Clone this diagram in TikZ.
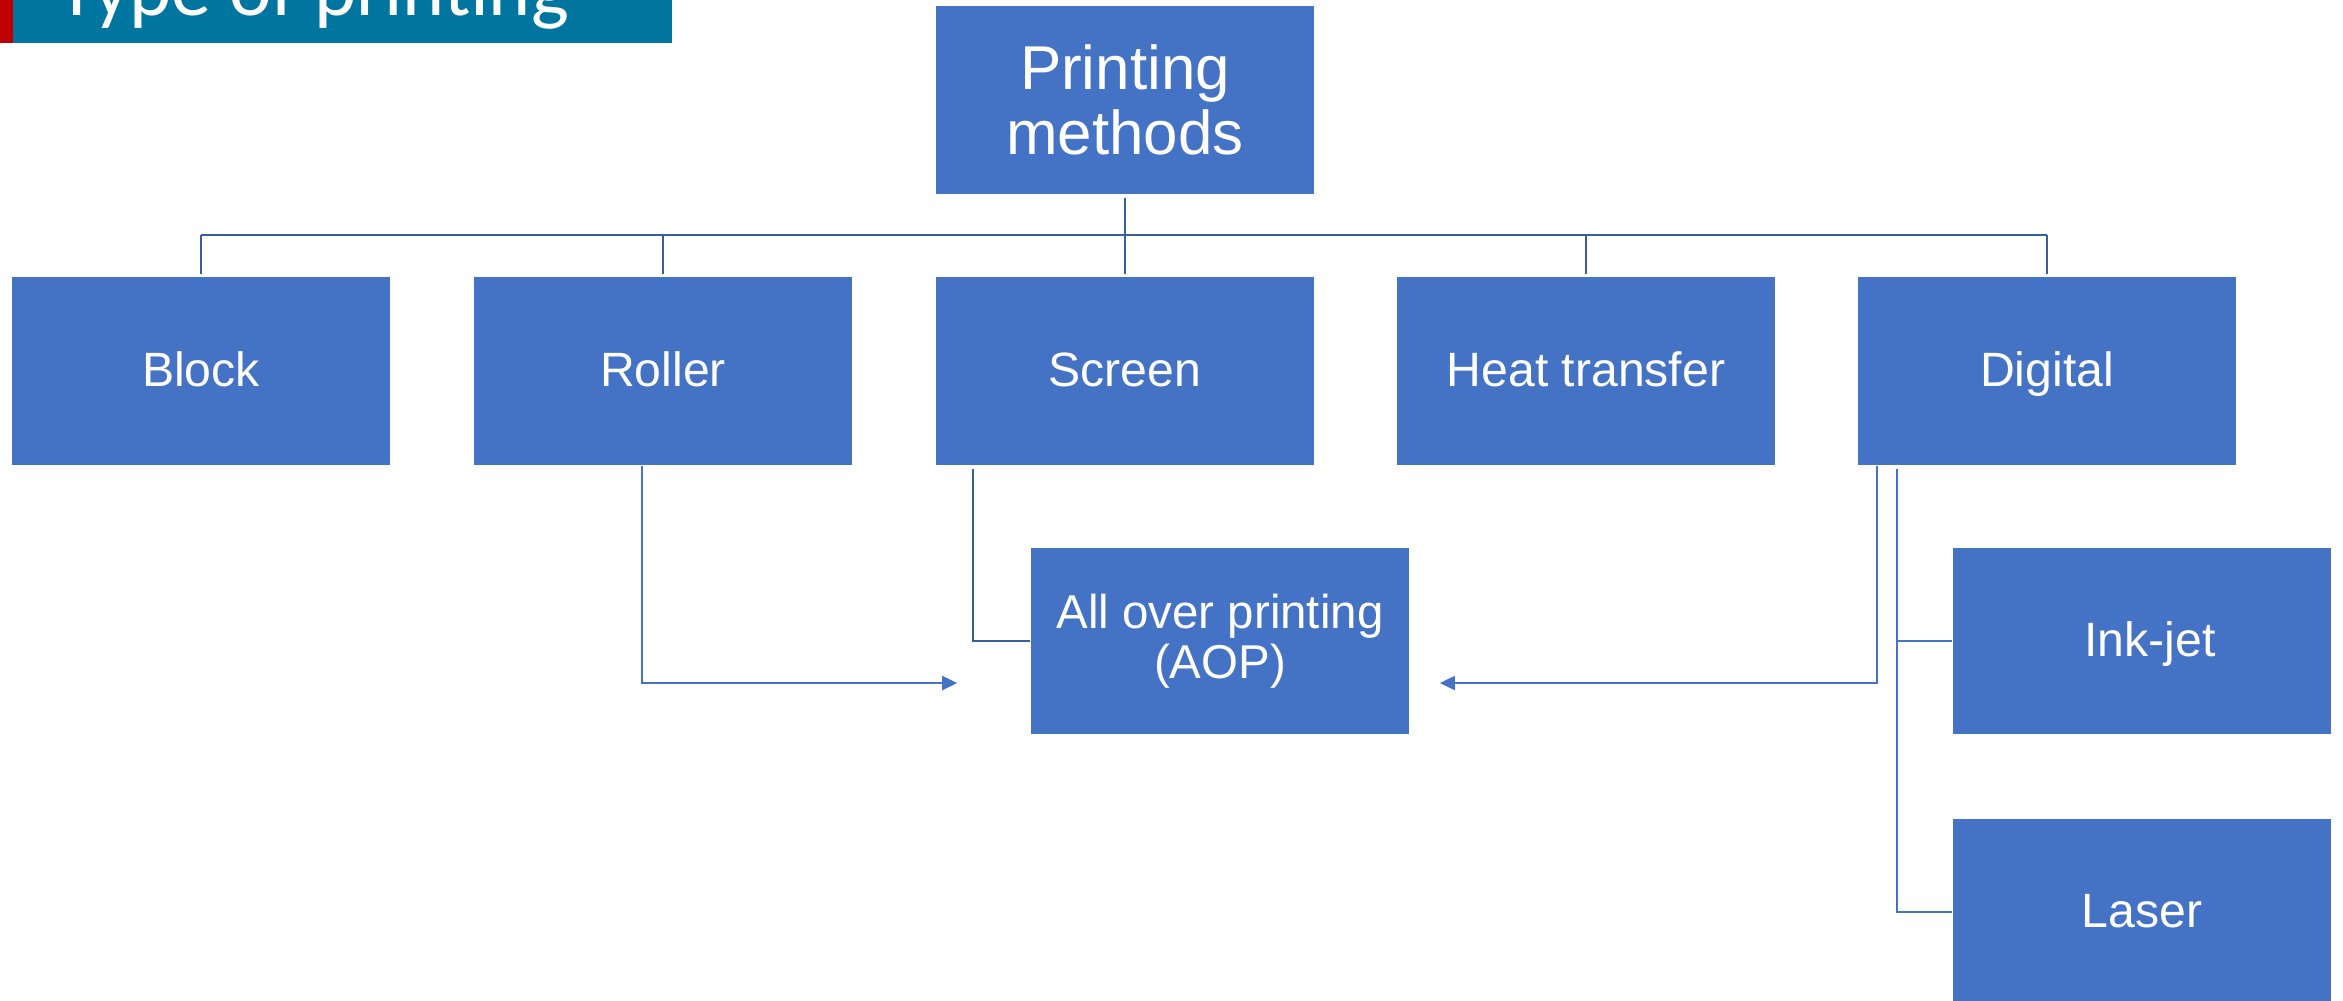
\documentclass[tikz,border=0pt]{standalone}
\usepackage{fontspec}
\setmainfont{Liberation Sans}
\newfontfamily\titlefont{Carlito}
\usetikzlibrary{arrows.meta}
\definecolor{boxblue}{HTML}{4472C4}
\definecolor{busblue}{HTML}{3A5CA0}
\definecolor{titleteal}{HTML}{0075A0}
\definecolor{titlered}{HTML}{C00000}
\tikzset{
  box/.style={fill=boxblue, draw=none, text=white, minimum width=3.78cm, minimum height=1.88cm, inner sep=0pt, align=center, font=\fontsize{13.7}{16}\selectfont},
  onebox/.style={box, text height=9.8pt, text depth=0.9pt},
  bigbox/.style={box, font=\fontsize{17.6}{18.5}\selectfont},
  aopbox/.style={box, minimum height=1.86cm, font=\fontsize{13.5}{14.2}\selectfont},
  busline/.style={draw=busblue, line width=0.8pt},
  darkline/.style={draw=busblue, line width=0.6pt},
  liteline/.style={draw=boxblue, line width=0.6pt},
  tip/.style={-{Triangle[length=0.15cm,width=0.14cm]}}
}
\begin{document}
\begin{tikzpicture}[x=0.01cm, y=-0.01cm]
\useasboundingbox (0,0) rectangle (2343,1000);
% title bar
\fill[titlered] (0,0) rectangle (13,43);
\fill[titleteal] (13,0) rectangle (672,43);
\node[anchor=base west, inner sep=0pt, text=white, font=\titlefont\fontsize{22.8}{24}\selectfont] (title) at (57,15) {Type of printing};
% nodes
\node[bigbox] (root) at (1125,100) {Printing\\methods};
\node[onebox] (block) at (201,371) {Block};
\node[onebox] (roller) at (663,371) {Roller};
\node[onebox] (screen) at (1125,371) {Screen};
\node[onebox] (heat) at (1586,371) {Heat transfer};
\node[onebox] (digital) at (2047,371) {Digital};
\node[aopbox] (aop) at (1220,641) {All over printing\\(AOP)};
\node[onebox, minimum height=1.86cm] (inkjet) at (2142,641) {\hspace*{0.16cm}Ink-jet};
\node[onebox, minimum height=1.86cm] (laser) at (2142,912) {Laser};
% tree bus
\coordinate (busy) at (0,235);
\draw[busline] (block.north |- busy) -- (digital.north |- busy);
\draw[busline] ([yshift=-0.03cm]root.south) -- ([yshift=0.02cm]screen.north);
\foreach \c in {block,roller,heat,digital}{
  \draw[busline] (\c.north |- busy) -- ([yshift=0.02cm]\c.north);
}
% roller -> AOP
\coordinate (aoplt) at ([xshift=-0.73cm,yshift=-0.42cm]aop.west);
\draw[liteline, tip] ([xshift=-0.21cm]roller.south) |- (aoplt);
% screen -> AOP
\draw[darkline] ([xshift=-1.52cm,yshift=-0.03cm]screen.south) |- (aop.west);
% digital -> AOP
\coordinate (aoprt) at ([xshift=0.30cm,yshift=-0.42cm]aop.east);
\draw[liteline, tip] ([xshift=-1.70cm]digital.south) |- (aoprt);
% digital -> ink-jet, laser
\draw[liteline] ([xshift=-1.50cm,yshift=-0.03cm]digital.south) coordinate (dtop) |- (laser.west);
\draw[liteline] (dtop |- inkjet.west) -- (inkjet.west);
\end{tikzpicture}
\end{document}
